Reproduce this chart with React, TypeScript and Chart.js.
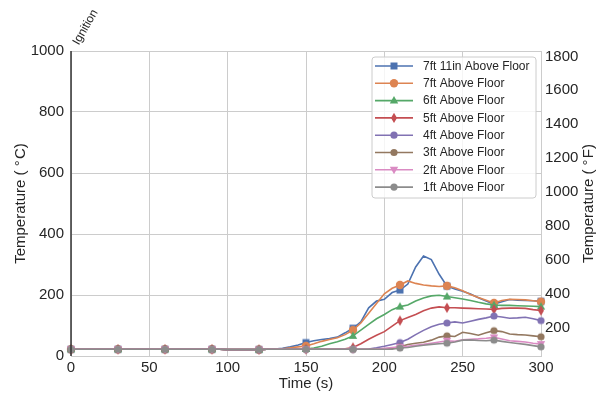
import React, { useEffect, useRef } from "react";
import { Chart, registerables } from "chart.js";
Chart.register(...registerables);

const times = [0,5,10,15,20,25,30,35,40,45,50,55,60,65,70,75,80,85,90,95,100,105,110,115,120,125,130,135,140,145,150,155,160,165,170,175,180,185,190,195,200,205,210,215,220,225,230,235,240,245,250,255,260,265,270,275,280,285,290,295,300];

const seriesLabels = ["7ft 11in Above Floor","7ft Above Floor","6ft Above Floor","5ft Above Floor","4ft Above Floor","3ft Above Floor","2ft Above Floor","1ft Above Floor"];

const s7ft11in = [22,22,22,22,22,22,22,22,22,22,22,22,22,22,22,22,22,22,22,22,21,21,21,21,21,22,23,25,30,36,44,50,54,57,62,76,91,112,158,180,186,208,216,236,292,328,316,268,229,220,212,203,191,180,170,178,185,183,182,181,179];
const s7ft = [22,22,22,22,22,22,22,22,22,22,22,22,22,22,22,22,22,22,22,22,21,21,21,21,21,22,22,24,27,30,33,40,48,54,60,70,85,108,140,172,204,222,233,246,238,233,230,228,230,224,214,202,192,183,174,182,186,185,184,181,178];
const s6ft = [22,22,22,22,22,22,22,22,22,22,22,22,22,22,22,22,22,22,22,22,21,21,21,21,21,22,22,22,22,22,23,26,32,40,47,55,66,85,104,122,136,152,162,167,180,190,197,199,195,191,187,182,176,171,167,166,166,165,164,163,162];
const s5ft = [22,22,22,22,22,22,22,22,22,22,22,22,22,22,22,22,22,22,22,22,21,21,21,21,21,22,22,22,22,22,22,22,22,22,23,24,28,40,55,68,80,98,116,126,136,148,157,161,158,158,157,156,155,154,153,156,157,157,156,152,149];
const s4ft = [22,22,22,22,22,22,22,22,22,22,22,22,22,22,22,22,22,22,22,22,21,21,21,21,21,22,22,22,22,22,22,22,22,22,22,22,22,22,23,27,32,38,44,55,70,84,96,104,108,112,108,114,120,125,131,128,124,125,127,122,116];
const s3ft = [22,22,22,22,22,22,22,22,22,22,22,22,22,22,22,22,22,22,22,22,21,21,21,21,21,22,22,22,22,22,22,22,22,22,22,22,22,22,22,22,22,25,30,38,42,45,52,62,66,64,78,74,68,76,83,80,72,70,69,66,63];
const s2ft = [22,22,22,22,22,22,22,22,22,22,22,22,22,22,22,22,22,22,22,22,21,21,21,21,21,22,22,22,22,22,22,22,22,22,22,22,22,22,22,22,25,28,30,32,35,38,42,46,50,48,53,55,56,58,61,56,50,48,46,42,39];
const s1ft = [22,22,22,22,22,22,22,22,22,22,22,22,22,22,22,22,22,22,22,22,21,21,21,21,21,22,22,22,22,22,22,22,22,22,22,22,22,22,22,22,22,22,26,28,32,35,38,40,42,46,52,53,51,50,52,48,44,41,38,34,30];

const seriesValues = [s7ft11in, s7ft, s6ft, s5ft, s4ft, s3ft, s2ft, s1ft];
const colors = ["#4C72B0","#DD8452","#55A868","#C44E52","#8172B3","#937860","#DA8BC3","#8C8C8C"];
const markers = ["square","circle","triUp","thinDiamond","circleS","circleS","triDown","circleS"];

const xTicks = [0,50,100,150,200,250,300];
const cTicks = [0,200,400,600,800,1000];
const fTicks = [200,400,600,800,1000,1200,1400,1600,1800];

const FONT = "'Liberation Sans', Arial, sans-serif";
const TXT = "#262626";

function drawMarker(ctx: CanvasRenderingContext2D, kind: string, x: number, y: number, color: string) {
  ctx.save();
  ctx.fillStyle = color;
  ctx.strokeStyle = color;
  ctx.lineWidth = 1;
  ctx.beginPath();
  if (kind === "square") {
    ctx.rect(x - 3.5, y - 3.5, 7, 7);
  } else if (kind === "circle") {
    ctx.arc(x, y, 4.2, 0, Math.PI * 2);
  } else if (kind === "circleS") {
    ctx.arc(x, y, 3.6, 0, Math.PI * 2);
  } else if (kind === "triUp") {
    ctx.moveTo(x, y - 4.5);
    ctx.lineTo(x + 4.2, y + 3);
    ctx.lineTo(x - 4.2, y + 3);
    ctx.closePath();
  } else if (kind === "triDown") {
    ctx.moveTo(x, y + 4.5);
    ctx.lineTo(x + 4.2, y - 3);
    ctx.lineTo(x - 4.2, y - 3);
    ctx.closePath();
  } else if (kind === "thinDiamond") {
    ctx.moveTo(x, y - 5.2);
    ctx.lineTo(x + 3, y);
    ctx.lineTo(x, y + 5.2);
    ctx.lineTo(x - 3, y);
    ctx.closePath();
  }
  ctx.fill();
  ctx.restore();
}

function makeMarkerCanvas(kind: string, color: string) {
  const c = document.createElement("canvas");
  c.width = 14;
  c.height = 14;
  const ctx = c.getContext("2d")!;
  drawMarker(ctx, kind, 7, 7, color);
  return c;
}

const plain = (v: any) => String(v);

export default function App() {
  const ref = useRef<HTMLCanvasElement>(null);
  useEffect(() => {
    if (!ref.current) return;
    const datasets = seriesValues.map((vals, i) => {
      const img = makeMarkerCanvas(markers[i], colors[i]);
      return {
        label: seriesLabels[i],
        data: times.map((t, j) => ({ x: t, y: vals[j] })),
        borderColor: colors[i],
        backgroundColor: colors[i],
        borderWidth: 1.6,
        pointStyle: img as any,
        pointRadius: (c: any) => (times[c.dataIndex] % 30 === 0 ? 4 : 0),
        pointHoverRadius: 0,
        tension: 0,
        clip: false as any,
        order: 7 - i,
        yAxisID: "y",
      };
    });

    const overlay = {
      id: "overlay",
      afterDraw(chart: any) {
        const ctx: CanvasRenderingContext2D = chart.ctx;
        const area = chart.chartArea;
        const xs = chart.scales.x;
        // Ignition line
        const x0 = xs.getPixelForValue(0);
        ctx.save();
        ctx.strokeStyle = "#333333";
        ctx.lineWidth = 1.5;
        ctx.beginPath();
        ctx.moveTo(x0, area.top);
        ctx.lineTo(x0, area.bottom);
        ctx.stroke();
        ctx.translate(x0 + 10, area.top - 4);
        ctx.rotate(-60 * Math.PI / 180);
        ctx.fillStyle = TXT;
        ctx.font = `12px ${FONT}`;
        ctx.textAlign = "left";
        ctx.textBaseline = "bottom";
        ctx.fillText("Ignition", 0, 0);
        ctx.restore();

        // Axis titles
        ctx.save();
        ctx.fillStyle = TXT;
        ctx.font = `15px ${FONT}`;
        ctx.textAlign = "center";
        ctx.textBaseline = "middle";
        ctx.fillText("Time (s)", (area.left + area.right) / 2, 384);
        const midY = (area.top + area.bottom) / 2;
        ctx.save();
        ctx.translate(21, midY);
        ctx.rotate(-Math.PI / 2);
        ctx.fillText("Temperature ( °\u200aC)", 0, 0);
        ctx.restore();
        ctx.save();
        ctx.translate(589, midY);
        ctx.rotate(-Math.PI / 2);
        ctx.fillText("Temperature ( °\u200aF)", 0, 0);
        ctx.restore();
        ctx.restore();

        // Legend
        const bx = 372, by = 57, bw = 164, bh = 141, r = 3;
        ctx.save();
        ctx.beginPath();
        ctx.moveTo(bx + r, by);
        ctx.lineTo(bx + bw - r, by);
        ctx.quadraticCurveTo(bx + bw, by, bx + bw, by + r);
        ctx.lineTo(bx + bw, by + bh - r);
        ctx.quadraticCurveTo(bx + bw, by + bh, bx + bw - r, by + bh);
        ctx.lineTo(bx + r, by + bh);
        ctx.quadraticCurveTo(bx, by + bh, bx, by + bh - r);
        ctx.lineTo(bx, by + r);
        ctx.quadraticCurveTo(bx, by, bx + r, by);
        ctx.closePath();
        ctx.fillStyle = "rgba(255,255,255,0.8)";
        ctx.fill();
        ctx.strokeStyle = "#cccccc";
        ctx.lineWidth = 1;
        ctx.stroke();
        ctx.font = `12px ${FONT}`;
        ctx.textAlign = "left";
        ctx.textBaseline = "middle";
        seriesLabels.forEach((lab, i) => {
          const yy = 66 + i * 17.3;
          ctx.strokeStyle = colors[i];
          ctx.lineWidth = 1.6;
          ctx.beginPath();
          ctx.moveTo(375, yy);
          ctx.lineTo(413, yy);
          ctx.stroke();
          drawMarker(ctx, markers[i], 394, yy, colors[i]);
          ctx.fillStyle = TXT;
          ctx.fillText(lab, 423, yy + 0.5);
        });
        ctx.restore();
      },
    };

    const chart = new Chart(ref.current, {
      type: "line",
      data: { datasets: datasets as any },
      options: {
        animation: false,
        responsive: false,
        devicePixelRatio: 1,
        events: [],
        layout: { padding: { top: 51, left: 0, right: 0, bottom: 0 } },
        plugins: { legend: { display: false }, tooltip: { enabled: false } },
        scales: {
          x: {
            type: "linear",
            min: 0,
            max: 300,
            afterBuildTicks: (s: any) => { s.ticks = xTicks.map((v) => ({ value: v })); },
            afterFit: (s: any) => { s.height = 38; },
            grid: { color: "#cccccc", lineWidth: 1, drawTicks: false },
            border: { display: true, color: "#cccccc", width: 1 },
            ticks: { color: TXT, font: { family: FONT, size: 15 }, padding: 3, maxRotation: 0, callback: plain },
          },
          y: {
            type: "linear",
            position: "left",
            min: 0,
            max: 1000,
            afterBuildTicks: (s: any) => { s.ticks = cTicks.map((v) => ({ value: v })); },
            afterFit: (s: any) => { s.width = 71; },
            grid: { color: "#cccccc", lineWidth: 1, drawTicks: false },
            border: { display: true, color: "#cccccc", width: 1 },
            ticks: { color: TXT, font: { family: FONT, size: 15 }, padding: 7, callback: plain },
          },
          yF: {
            type: "linear",
            position: "right",
            min: 32,
            max: 1832,
            afterBuildTicks: (s: any) => { s.ticks = fTicks.map((v) => ({ value: v })); },
            afterFit: (s: any) => { s.width = 60; },
            grid: { display: false, drawTicks: false },
            border: { display: true, color: "#cccccc", width: 1 },
            ticks: { color: TXT, font: { family: FONT, size: 15 }, padding: 4, callback: plain },
          },
        },
      },
      plugins: [overlay],
    });
    return () => chart.destroy();
  }, []);

  return (
    <div style={{ position: "absolute", left: 0, top: 0, width: 601, height: 394 }}>
      <canvas ref={ref} width={601} height={394} />
    </div>
  );
}
